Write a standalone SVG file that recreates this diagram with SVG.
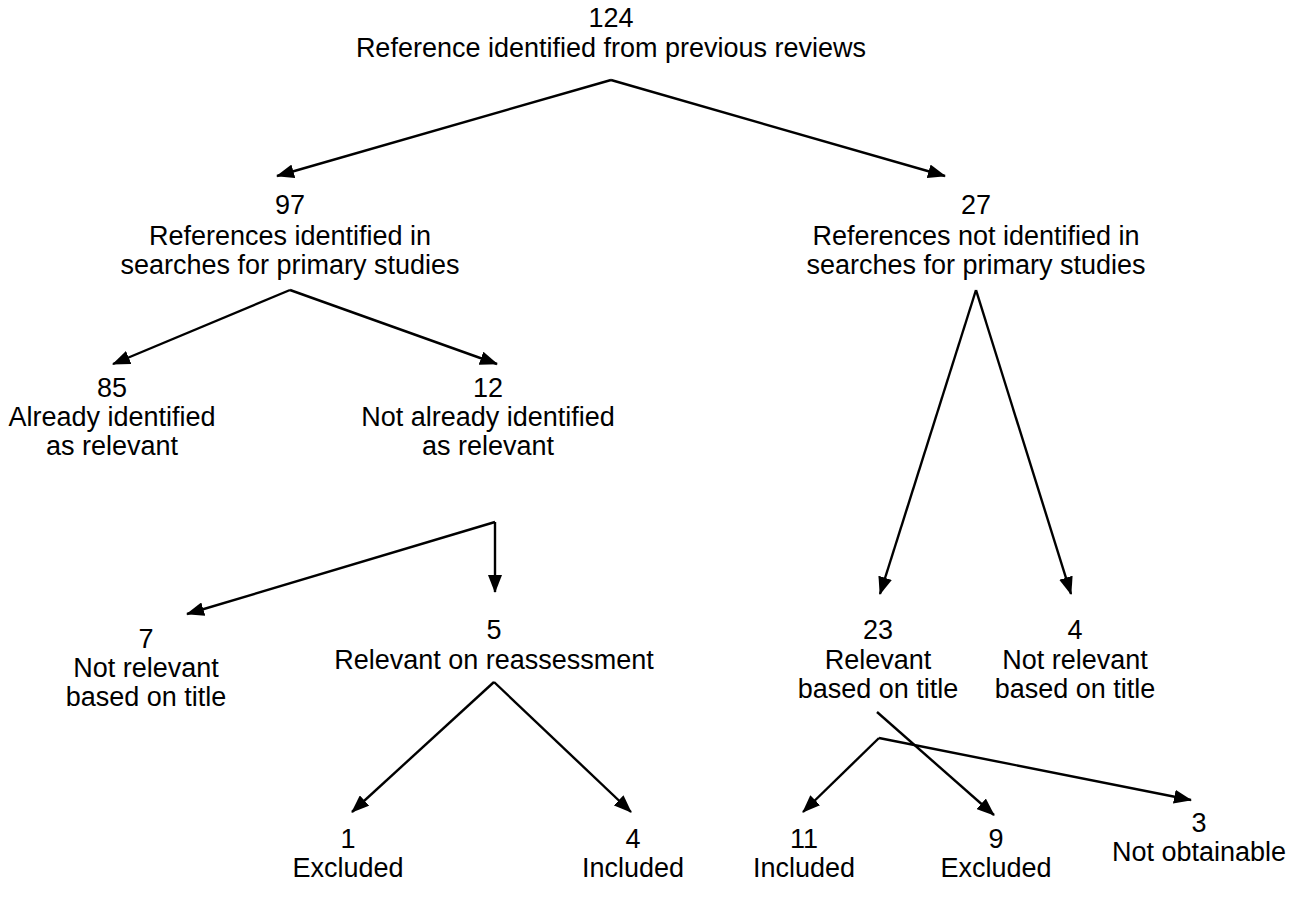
<svg xmlns="http://www.w3.org/2000/svg" width="1304" height="898" viewBox="0 0 1304 898">
<defs>
<style>
text{font-family:"Liberation Sans",Arial,sans-serif;font-size:27px;fill:#000;text-anchor:middle}
.c{stroke:#000;stroke-width:2.4;fill:none;marker-end:url(#ah)}
</style>
<marker id="ah" viewBox="0 0 18 14" refX="17" refY="7" markerWidth="18" markerHeight="14" markerUnits="userSpaceOnUse" orient="auto">
<path d="M0,0 L18,7 L0,14 z" fill="#000"/>
</marker>
</defs>
<rect width="1304" height="898" fill="#fff"/>
<g id="n124"><text x="611" y="27">124</text><text x="611" y="57">Reference identified from previous reviews</text></g>
<g id="n97"><text x="290" y="214">97</text><text x="290" y="245">References identified in</text><text x="290" y="274">searches for primary studies</text></g>
<g id="n27"><text x="976" y="214">27</text><text x="976" y="245">References not identified in</text><text x="976" y="274">searches for primary studies</text></g>
<g id="n85"><text x="112" y="397">85</text><text x="112" y="426">Already identified</text><text x="112" y="455">as relevant</text></g>
<g id="n12"><text x="488" y="397">12</text><text x="488" y="426">Not already identified</text><text x="488" y="455">as relevant</text></g>
<g id="n7"><text x="146" y="648">7</text><text x="146" y="677">Not relevant</text><text x="146" y="706">based on title</text></g>
<g id="n5"><text x="494" y="639">5</text><text x="494" y="669">Relevant on reassessment</text></g>
<g id="n23"><text x="878" y="639">23</text><text x="878" y="669">Relevant</text><text x="878" y="698">based on title</text></g>
<g id="n4a"><text x="1075" y="639">4</text><text x="1075" y="669">Not relevant</text><text x="1075" y="698">based on title</text></g>
<g id="n1"><text x="348" y="848">1</text><text x="348" y="877">Excluded</text></g>
<g id="n4b"><text x="633" y="848">4</text><text x="633" y="877">Included</text></g>
<g id="n11"><text x="804" y="848">11</text><text x="804" y="877">Included</text></g>
<g id="n9"><text x="996" y="848">9</text><text x="996" y="877">Excluded</text></g>
<g id="n3"><text x="1199" y="832">3</text><text x="1199" y="861">Not obtainable</text></g>
<g id="connectors">
<path class="c" d="M611,80 L277,176"/>
<path class="c" d="M611,80 L945,176"/>
<path class="c" d="M290,290 L113,364"/>
<path class="c" d="M290,290 L497,364"/>
<path class="c" d="M976,290 L880,594"/>
<path class="c" d="M976,290 L1071,594"/>
<path class="c" d="M495,522 L187,614"/>
<path class="c" d="M495,522 L495,592"/>
<path class="c" d="M494,682 L352,812"/>
<path class="c" d="M494,682 L631,812"/>
<path class="c" d="M877,712 L994,815"/>
<path class="c" d="M879,738 L803,812"/>
<path class="c" d="M879,738 L1191,800"/>
</g>
</svg>
